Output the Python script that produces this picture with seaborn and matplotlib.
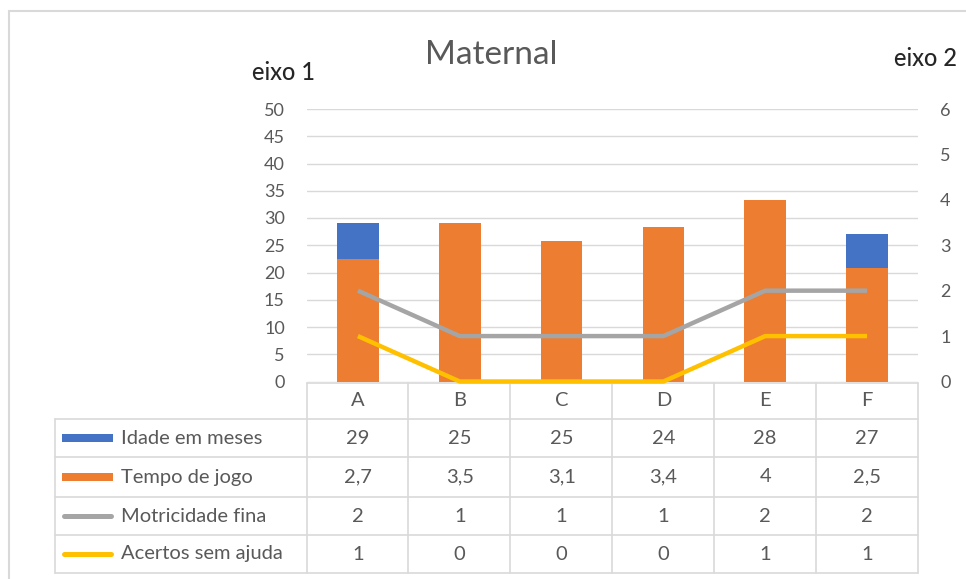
import matplotlib
matplotlib.use("Agg")
import matplotlib.pyplot as plt
import matplotlib.transforms as mtransforms
from matplotlib.lines import Line2D
from matplotlib.patches import Rectangle
import seaborn as sns
import pandas as pd

# ---- data ----
categories = ["A", "B", "C", "D", "E", "F"]
idade = [29, 25, 25, 24, 28, 27]            # eixo 1
tempo = [2.7, 3.5, 3.1, 3.4, 4, 2.5]        # eixo 2
motricidade = [2, 1, 1, 1, 2, 2]            # eixo 2
acertos = [1, 0, 0, 0, 1, 1]                # eixo 2
series_names = ["Idade em meses", "Tempo de jogo", "Motricidade fina", "Acertos sem ajuda"]
y1_ticks = [0, 5, 10, 15, 20, 25, 30, 35, 40, 45, 50]
y2_ticks = [0, 1, 2, 3, 4, 5, 6]

BLUE, ORANGE, GREY, GOLD = "#4472C4", "#ED7D31", "#A5A5A5", "#FFC000"
TXT = "#595959"
LINEC = "#D9D9D9"

sns.set_style("white")
plt.rcParams["font.family"] = ["Lato", "DejaVu Sans"]

W, H = 966, 579
fig = plt.figure(figsize=(W / 100, H / 100), dpi=100)

def fx(px):
    return px / W

def fy(py):
    return 1 - py / H

left, right, top, bottom = 307, 918, 109, 381.5
ax1 = fig.add_axes([fx(left), fy(bottom), fx(right - left), (bottom - top) / H])
ax2 = ax1.twinx()

df = pd.DataFrame({"cat": categories, "idade": idade, "tempo": tempo,
                   "motr": motricidade, "acert": acertos})

sns.barplot(data=df, x="cat", y="idade", color=BLUE, width=0.41, saturation=1,
            linewidth=0, ax=ax1, order=categories)
sns.barplot(data=df, x="cat", y="tempo", color=ORANGE, width=0.41, saturation=1,
            linewidth=0, ax=ax2, order=categories)
sns.lineplot(data=df, x="cat", y="motr", color=GREY, lw=3.2, ax=ax2, sort=False)
sns.lineplot(data=df, x="cat", y="acert", color=GOLD, lw=3.2, ax=ax2, sort=False)
for ln in ax2.lines:
    ln.set_clip_on(False)
    ln.set_solid_capstyle("butt")

for ax in (ax1, ax2):
    ax.set_xlim(-0.5, len(categories) - 0.5)
    ax.set_xlabel("")
    ax.set_ylabel("")
    for s in ax.spines.values():
        s.set_visible(False)
    ax.tick_params(axis="x", length=0, labelbottom=False)
    ax.patch.set_visible(False)

ax1.set_ylim(0, 50)
ax1.set_yticks(y1_ticks)
ax1.set_yticklabels([str(t) for t in y1_ticks])
ax1.tick_params(axis="y", length=0, pad=16, labelsize=13, labelcolor=TXT)
ax1.yaxis.grid(True, color=LINEC, lw=1)
ax1.set_axisbelow(True)

ax2.set_ylim(0, 6)
ax2.set_yticks(y2_ticks)
ax2.set_yticklabels([str(t) for t in y2_ticks])
ax2.tick_params(axis="y", length=0, pad=16, labelsize=13, labelcolor=TXT)
ax2.grid(False)
ax1.set_zorder(1)
ax2.set_zorder(2)

# ---- titles ----
fig.text(fx(491), fy(55), "Maternal", ha="center", va="center", fontsize=24, color=TXT)
fig.text(fx(284), fy(72), "eixo 1", ha="center", va="center", fontsize=17,
         color="#262626", fontweight="medium")
fig.text(fx(926), fy(58), "eixo 2", ha="center", va="center", fontsize=17,
         color="#262626", fontweight="medium")

# ---- chart frame ----
fig.add_artist(Line2D([fx(9), 1], [fy(11), fy(11)], transform=fig.transFigure, color=LINEC, lw=1.5))
fig.add_artist(Line2D([fx(9), fx(9)], [fy(11), 0], transform=fig.transFigure, color=LINEC, lw=1.5))

# ---- data table ----
row_edges = [383, 419, 457, 497, 535, 573]
col_edges = [307, 408, 510, 612, 714, 816, 918]
tl = dict(transform=fig.transFigure, color=LINEC, lw=1.2)
fig.add_artist(Line2D([fx(307), fx(918)], [fy(383), fy(383)], **tl))
for ry in row_edges[1:]:
    fig.add_artist(Line2D([fx(55), fx(918)], [fy(ry), fy(ry)], **tl))
for cx in col_edges:
    fig.add_artist(Line2D([fx(cx), fx(cx)], [fy(383), fy(573)], **tl))
fig.add_artist(Line2D([fx(55), fx(55)], [fy(419), fy(573)], **tl))

blend = mtransforms.blended_transform_factory(ax1.transData, fig.transFigure)
row_centers = [(row_edges[i] + row_edges[i + 1]) / 2 for i in range(5)]

def fmt(v):
    return f"{v:g}".replace(".", ",")

TFS = 14.5
for i, c in enumerate(categories):
    fig.text(i, fy(row_centers[0]), c, transform=blend, ha="center", va="center",
             fontsize=TFS, color=TXT)
rows = [idade, tempo, motricidade, acertos]
for r, vals in enumerate(rows):
    for i, v in enumerate(vals):
        fig.text(i, fy(row_centers[r + 1]), fmt(v), transform=blend, ha="center",
                 va="center", fontsize=TFS, color=TXT)

# legend keys + names
key_colors = [BLUE, ORANGE, GREY, GOLD]
for r, (name, kc) in enumerate(zip(series_names, key_colors)):
    yc = row_centers[r + 1]
    if r < 2:
        fig.add_artist(Rectangle((fx(62), fy(yc + 4)), fx(113 - 62), 8 / H,
                                 transform=fig.transFigure, color=kc, lw=0))
    else:
        fig.add_artist(Line2D([fx(64), fx(111)], [fy(yc), fy(yc)], transform=fig.transFigure,
                              color=kc, lw=3.6, solid_capstyle="round"))
    fig.text(fx(121), fy(yc), name, ha="left", va="center", fontsize=TFS, color=TXT)

fig.savefig("out.png", dpi=100)
